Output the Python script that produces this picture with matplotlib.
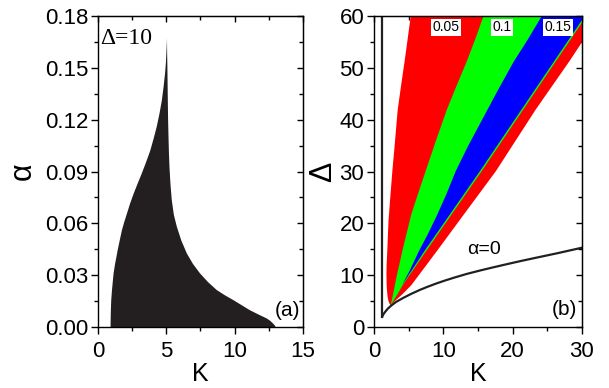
import numpy as np
import matplotlib
matplotlib.use("Agg")
import matplotlib.pyplot as plt
from matplotlib.ticker import MultipleLocator, FormatStrFormatter

plt.rcParams["font.family"] = ["Liberation Sans", "DejaVu Sans"]

# panel (a): boundary of the black region at Delta=10
a_left_K = [0.92, 0.925, 0.94, 0.97, 1.02, 1.08, 1.14, 1.25, 1.36, 1.44, 1.6, 1.75, 1.93,
            2.12, 2.35, 2.6, 2.9, 3.2, 3.5, 3.82, 4.07, 4.3, 4.5, 4.67, 4.8, 4.91, 4.97,
            5.0, 5.03, 5.05]
a_left_al = [0.0, 0.003, 0.009, 0.0156, 0.021, 0.026, 0.031, 0.0365, 0.041, 0.0445, 0.0505,
             0.056, 0.061, 0.0657, 0.0715, 0.077, 0.083, 0.0888, 0.095, 0.102, 0.109, 0.116,
             0.1235, 0.131, 0.139, 0.147, 0.153, 0.158, 0.163, 0.167]
a_right_K = [5.05, 5.06, 5.08, 5.095, 5.11, 5.13, 5.16, 5.19, 5.23, 5.3, 5.4, 5.55, 5.77,
             6.1, 6.5, 6.95, 7.47, 8.05, 8.69, 9.3, 9.9, 10.5, 11.1, 11.7, 12.34, 12.6,
             12.8, 12.93, 13.0]
a_right_al = [0.167, 0.158, 0.150, 0.140, 0.131, 0.12, 0.110, 0.101, 0.0927, 0.083, 0.0734,
              0.065, 0.058, 0.05, 0.0426, 0.0365, 0.031, 0.026, 0.0214, 0.0183, 0.0156,
              0.0127, 0.0098, 0.0074, 0.005, 0.0036, 0.0021, 0.001, 0.0]

# panel (b): region boundaries, K as a function of Delta
red_L_D = [4.2, 4.6, 5.2, 6.0, 7.0, 8.0, 10, 12, 14.7, 17.5, 20.6, 25, 30.1, 35, 41.9,
           46.5, 51.3, 55.5, 60]
red_L_K = [2.4, 2.2, 2.05, 1.95, 1.88, 1.83, 1.8, 1.82, 1.92, 2.0, 2.1, 2.35, 2.65, 2.98,
           3.42, 3.9, 4.42, 4.85, 5.3]
red_R_D = [4.2, 4.5, 5.0, 5.6, 6.2, 7.0, 8.1, 14.7, 21.6, 30.1, 41.9, 51.3, 60]
red_R_K = [2.4, 2.65, 3.0, 3.5, 4.0, 4.6, 5.4, 9.1, 12.9, 17.6, 23.3, 28.2, 32.5]

green_L_D = [4.2, 6, 8, 10, 12, 14.7, 18, 21.6, 25.5, 30.1, 36, 41.9, 46.5, 51.3, 55.5, 60]
green_L_K = [2.4, 2.7, 3.0, 3.3, 3.65, 4.09, 4.7, 5.35, 6.3, 7.46, 8.95, 10.5, 11.9, 13.4,
             14.6, 15.8]
green_R_D = [4.2, 6.0, 8.1, 14.7, 30.1, 51.3, 60]
green_R_K = [2.4, 3.25, 4.15, 7.55, 15.55, 26.25, 30.65]

blue_L_D = [8.1, 11, 14.7, 18, 21.6, 25.5, 30.1, 35, 41, 46, 51.3, 55.5, 60]
blue_L_K = [4.05, 5.2, 6.5, 7.8, 9.1, 10.4, 11.8, 13.6, 16.0, 18.0, 20.2, 22.2, 24.2]
blue_R_D = [8.1, 14.7, 30.1, 51.3, 60]
blue_R_K = [4.05, 7.3, 15.3, 26.0, 30.4]

# alpha=0 curve and vertical line
a0_K = [1.2, 1.35, 1.6, 2.0, 2.5, 3.2, 4.2, 5.3, 6.6, 7.8, 9.0, 10.2, 11.5, 13.4, 15.3,
        17.0, 18.7, 21.0, 23.5, 26.5, 30.0]
a0_D = [2.0, 2.45, 2.9, 3.55, 4.15, 4.85, 5.6, 6.35, 7.15, 7.8, 8.4, 8.95, 9.5, 10.25,
        10.9, 11.45, 11.98, 12.68, 13.4, 14.25, 15.3]
vline_K = [1.2, 1.2]
vline_D = [2.0, 60.0]

region_labels = ["0.05", "0.1", "0.15"]
region_label_K = [10.4, 18.5, 26.5]


def style_axes(ax, xmaj, xmin, ymaj, ymin):
    ax.xaxis.set_major_locator(MultipleLocator(xmaj))
    ax.xaxis.set_minor_locator(MultipleLocator(xmin))
    ax.yaxis.set_major_locator(MultipleLocator(ymaj))
    ax.yaxis.set_minor_locator(MultipleLocator(ymin))
    ax.tick_params(which="major", direction="out", length=5, width=1, labelsize=16, pad=2)
    ax.tick_params(which="minor", direction="out", length=3, width=1)
    ax.tick_params(axis="x", which="major", pad=5)
    for s in ax.spines.values():
        s.set_linewidth(1.0)
    top = ax.secondary_xaxis("top")
    top.xaxis.set_major_locator(MultipleLocator(xmaj))
    top.xaxis.set_minor_locator(MultipleLocator(xmin))
    top.tick_params(which="both", direction="in", labeltop=False, width=1)
    top.tick_params(which="major", length=4)
    top.tick_params(which="minor", length=3)
    right = ax.secondary_yaxis("right")
    right.yaxis.set_major_locator(MultipleLocator(ymaj))
    right.yaxis.set_minor_locator(MultipleLocator(ymin))
    right.tick_params(which="both", direction="in", labelright=False, width=1)
    right.tick_params(which="major", length=4)
    right.tick_params(which="minor", length=3)


fig = plt.figure(figsize=(6.09, 3.88), dpi=100)
ax1 = fig.add_axes([0.1609, 0.1572, 0.3366, 0.8015])
ax2 = fig.add_axes([0.6141, 0.1572, 0.3415, 0.8015])

# ---- panel (a)
ax1.fill(a_left_K + a_right_K, a_left_al + a_right_al, color="#231f20", lw=0)
ax1.set_xlim(0, 15)
ax1.set_ylim(0, 0.18)
style_axes(ax1, 5, 2.5, 0.03, 0.015)
ax1.yaxis.set_major_formatter(FormatStrFormatter("%.2f"))
ax1.set_xlabel("K", fontsize=18, labelpad=0)
ax1.set_ylabel("α", fontsize=22, labelpad=5)
ax1.text(0.15, 0.167, "Δ=10", fontsize=17, family=["Liberation Serif", "DejaVu Serif"],
         ha="left", va="center")
ax1.text(14.8, 0.0098, "(a)", fontsize=15, ha="right", va="center")

# ---- panel (b)
ax2.fill(red_L_K + red_R_K[::-1], red_L_D + red_R_D[::-1], color="#ff0000", lw=0)
ax2.fill(green_L_K + green_R_K[::-1], green_L_D + green_R_D[::-1], color="#00ff00", lw=0)
ax2.fill(blue_L_K + blue_R_K[::-1], blue_L_D + blue_R_D[::-1], color="#0000ff", lw=0)
ax2.plot(a0_K, a0_D, color="#231f20", lw=1.6)
ax2.plot(vline_K, vline_D, color="#231f20", lw=1.6)
for lab, k in zip(region_labels, region_label_K):
    ax2.text(k, 57.8, lab, fontsize=10, ha="center", va="center",
             bbox=dict(boxstyle="square,pad=0.1", fc="white", ec="none"))
ax2.text(13.4, 15.0, "α=0", fontsize=14, ha="left", va="center")
ax2.text(29.3, 3.3, "(b)", fontsize=15, ha="right", va="center")
ax2.set_xlim(0, 30)
ax2.set_ylim(0, 60)
style_axes(ax2, 10, 5, 10, 5)
ax2.set_xlabel("K", fontsize=18, labelpad=0)
ax2.set_ylabel("Δ", fontsize=22, labelpad=1)

fig.savefig("out.png", dpi=100)
